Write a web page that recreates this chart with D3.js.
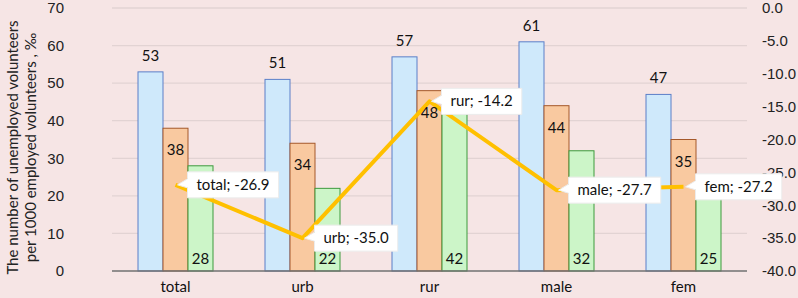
<!DOCTYPE html>
<html lang="en">
<head>
<meta charset="UTF-8">
<title>Unemployed vs employed volunteers</title>
<script src="https://d3js.org/d3.v7.min.js"></script>
<style>
    body { margin: 0; background: #f6e5e5; }
    svg { display: block; font-family: Lato, "Open Sans", sans-serif; }
    .tick text { font-size: 15px; fill: #222; }
    .val { font-size: 15px; fill: #111; }
    .callout text { font-size: 15px; fill: #111; }
</style>
</head>
<body>
<svg id="chart"></svg>
<script>
    // chart data
    const categories = ["total", "urb", "rur", "male", "fem"];
    const seriesBlue = [53, 51, 57, 61, 47];
    const seriesOrange = [38, 34, 48, 44, 35];
    const seriesGreen = [28, 22, 42, 32, 25];
    const lineValues = [-26.9, -35.0, -14.2, -27.7, -27.2];
    const leftTicks = [0, 10, 20, 30, 40, 50, 60, 70];
    const rightTicks = [0, -5, -10, -15, -20, -25, -30, -35, -40];

    const W = 798, H = 298;
    const margin = { top: 8, right: 51, bottom: 27, left: 112 };
    const width = W - margin.left - margin.right;
    const height = H - margin.top - margin.bottom;

    const svg = d3.select("#chart").attr("width", W).attr("height", H);
    svg.append("rect").attr("width", W).attr("height", H).attr("fill", "#f6e5e5");

    const g = svg.append("g").attr("transform", `translate(${margin.left},${margin.top})`);

    const x = d3.scaleBand().domain(categories).range([0, width]).paddingInner(0).paddingOuter(0);
    const y = d3.scaleLinear().domain([0, 70]).range([height, 0]);
    const y2 = d3.scaleLinear().domain([-40, 0]).range([height, 0]);

    const barW = 25;
    const series = [
        { key: "blue", values: seriesBlue, fill: "#cfe9fb", stroke: "#5b7fc8" },
        { key: "orange", values: seriesOrange, fill: "#f9c9a0", stroke: "#a5582a" },
        { key: "green", values: seriesGreen, fill: "#ccf5c8", stroke: "#3d9a3d" }
    ];
    const xs = d3.scaleBand().domain(series.map(s => s.key)).range([-barW * 1.5, barW * 1.5]);

    // gridlines
    g.append("g").selectAll("line").data(leftTicks.filter(t => t > 0)).join("line")
        .attr("x1", 0).attr("x2", width)
        .attr("y1", d => y(d)).attr("y2", d => y(d))
        .attr("stroke", "#e2d3d3").attr("stroke-width", 1.3);

    // left axis
    const yAxis = g.append("g").call(d3.axisLeft(y).tickValues(leftTicks).tickSize(0).tickPadding(48));
    yAxis.select(".domain").remove();
    yAxis.selectAll("text").attr("text-anchor", "end");

    // right axis
    const yAxis2 = g.append("g").attr("transform", `translate(${width},0)`)
        .call(d3.axisRight(y2).tickValues(rightTicks).tickSize(0).tickPadding(15));
    yAxis2.select(".domain").remove();
    yAxis2.selectAll("text").text(d => d === 0 ? "0.0" : d.toFixed(1));

    // bars
    series.forEach(s => {
        g.append("g").selectAll("rect").data(s.values).join("rect")
            .attr("x", (d, i) => x(categories[i]) + x.bandwidth() / 2 + xs(s.key))
            .attr("y", d => y(d))
            .attr("width", xs.bandwidth())
            .attr("height", d => height - y(d))
            .attr("fill", s.fill)
            .attr("stroke", s.stroke)
            .attr("stroke-width", 1);
    });

    // x axis line
    g.append("line").attr("x1", 0).attr("x2", width).attr("y1", height).attr("y2", height)
        .attr("stroke", "#707070").attr("stroke-width", 1.5);

    // category labels
    g.append("g").selectAll("text").data(categories).join("text")
        .attr("class", "val")
        .attr("x", d => x(d) + x.bandwidth() / 2)
        .attr("y", height + 21)
        .attr("text-anchor", "middle")
        .text(d => d);

    // line
    const pts = lineValues.map((v, i) => [x(categories[i]) + x.bandwidth() / 2, y2(v)]);
    g.append("path").datum(pts)
        .attr("d", d3.line())
        .attr("fill", "none")
        .attr("stroke", "#ffc000")
        .attr("stroke-width", 4)
        .attr("stroke-linejoin", "round");

    // callout labels
    const boxH = 26, gap = 12;
    lineValues.forEach((v, i) => {
        const [px, py] = pts[i];
        const label = `${categories[i]}; ${v.toFixed(1)}`;
        const cg = g.append("g").attr("class", "callout");
        const t = cg.append("text").attr("x", px + gap + 9).attr("y", py + 5).text(label);
        const bw = t.node().getComputedTextLength() + 18;
        const bx = px + gap, by = py - boxH / 2;
        cg.insert("path", "text")
            .attr("d", `M${bx},${by} H${bx + bw} V${by + boxH} H${bx} V${py + 3} L${px + 2},${py} L${bx},${py - 6} Z`)
            .attr("fill", "#ffffff")
            .attr("stroke", "#ececec")
            .attr("stroke-width", 1);
    });

    // value labels (drawn last, on top)
    const cx = (i, key) => x(categories[i]) + x.bandwidth() / 2 + xs(key) + xs.bandwidth() / 2;
    g.append("g").selectAll("text").data(seriesBlue).join("text")
        .attr("class", "val").attr("text-anchor", "middle")
        .attr("x", (d, i) => cx(i, "blue")).attr("y", d => y(d) - 11)
        .text(d => d);
    g.append("g").selectAll("text").data(seriesOrange).join("text")
        .attr("class", "val").attr("text-anchor", "middle")
        .attr("x", (d, i) => cx(i, "orange")).attr("y", d => y(d) + 27)
        .text(d => d);
    g.append("g").selectAll("text").data(seriesGreen).join("text")
        .attr("class", "val").attr("text-anchor", "middle")
        .attr("x", (d, i) => cx(i, "green")).attr("y", height - 7)
        .text(d => d);

    // axis title
    const title = svg.append("text")
        .attr("transform", `translate(18,${margin.top + height / 2 + 8}) rotate(-90)`)
        .attr("text-anchor", "middle")
        .style("font-size", "15px").attr("fill", "#222");
    title.append("tspan").attr("x", 0).attr("dy", 0).text("The number of unemployed volunteers");
    title.append("tspan").attr("x", 0).attr("dy", 18).text("per 1000 employed volunteers , ‰");
</script>
</body>
</html>
